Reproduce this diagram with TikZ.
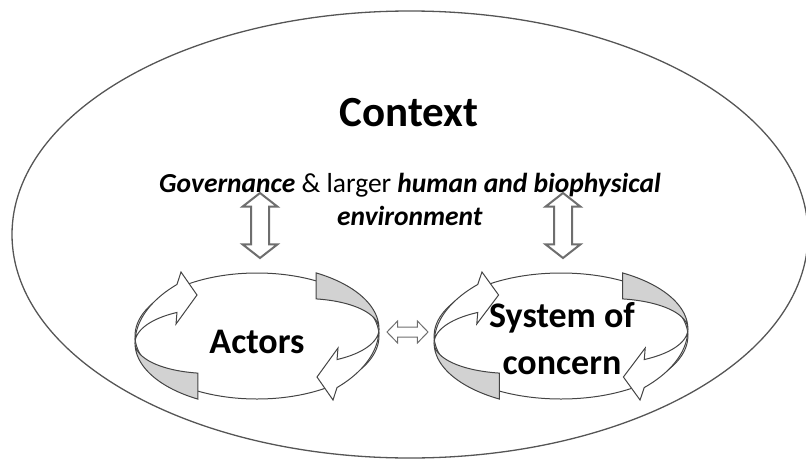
\documentclass[tikz,border=0pt]{standalone}
\usepackage{fontspec}
\setmainfont{Carlito}
\usetikzlibrary{shapes.arrows,calc,positioning}
\definecolor{edgegray}{HTML}{444444}
\definecolor{patchgray}{HTML}{D2D2D2}
\definecolor{arrowgray}{HTML}{6E6E6E}
\definecolor{framegray}{HTML}{555555}
\tikzset{
  frame/.style={draw=framegray, line width=1.3pt},
  ringline/.style={draw=edgegray, line width=1pt},
  backface/.style={fill=patchgray, draw=edgegray, line width=1pt},
  frontface/.style={fill=white, draw=edgegray, line width=1pt},
  bigarrow/.style={double arrow, draw=arrowgray, fill=white, line width=2pt,
    inner xsep=0pt, inner ysep=8pt, minimum height=65pt,
    double arrow head extend=8.5pt, double arrow tip angle=104, rotate=90},
  smallarrow/.style={double arrow, draw=arrowgray, fill=white, line width=1pt,
    inner xsep=0pt, inner ysep=4.5pt, minimum height=41pt,
    double arrow head extend=6pt, double arrow tip angle=92},
  title/.style={font=\fontsize{43}{51}\selectfont\bfseries},
  note/.style={font=\fontsize{27.5}{33}\selectfont, align=center, inner sep=0pt},
  ringlabel/.style={font=\fontsize{36}{47}\selectfont\bfseries, align=center, inner sep=0pt},
  % one cycle of two twisted ribbon arrows
  ring/.pic={
    \draw[ringline] (0,0) ellipse (122 and 63);
    \foreach \r in {0,180}{
      \begin{scope}[rotate=\r]
        \filldraw[backface]
          plot[domain=61:0, samples=40] ({122*cos(\x)},{63*sin(\x)+7+\x/61})
          -- plot[domain=0:61, samples=40] ({122*cos(\x)},{63*sin(\x)+7-25*\x/61})
          -- cycle;
        \filldraw[frontface]
          plot[domain=0:-49, samples=40] ({122*cos(\x)},{63*sin(\x)+7-17*\x/49})
          -- (81,-12) -- (60,-41) -- (76,-64)
          -- plot[domain=-49:0, samples=40] ({122*cos(\x)},{63*sin(\x)+7+11*\x/49})
          -- cycle;
      \end{scope}
    }
  }
}

\begin{document}
\begin{tikzpicture}[x=1pt, y=1pt]
\useasboundingbox (0,0) rectangle (806,-458);
\clip (0,0) rectangle (806,-458);

% context
\draw[frame] (410,-234.5) ellipse (398 and 223.5);
\node[title] (context) at (409,-113) {Context};
\node[note] (setting) at (410,-199)
  {\textbf{\textit{Governance}} \& larger \textbf{\textit{human and biophysical}}\\
   \textbf{\textit{environment}}};

% the two cycles
\coordinate (actorsC) at (257,-336);
\coordinate (systemC) at (561,-336);
\pic at (actorsC) {ring};
\pic[xscale=1.04] at (systemC) {ring};
\node[ringlabel, anchor=base] (actors) at ($(actorsC)+(0,-17)$) {Actors};
\node[ringlabel] (system) at ($(systemC)+(1,-3)$) {System of\\concern};

% links
\node[bigarrow] (linkA) at ($(actorsC)+(3,110.5)$) {};
\node[bigarrow] (linkS) at ($(systemC)+(2,110.5)$) {};
\node[smallarrow] (linkAS) at ($(actorsC)!0.5!(systemC)+(-1.5,4)$) {};

\end{tikzpicture}
\end{document}
